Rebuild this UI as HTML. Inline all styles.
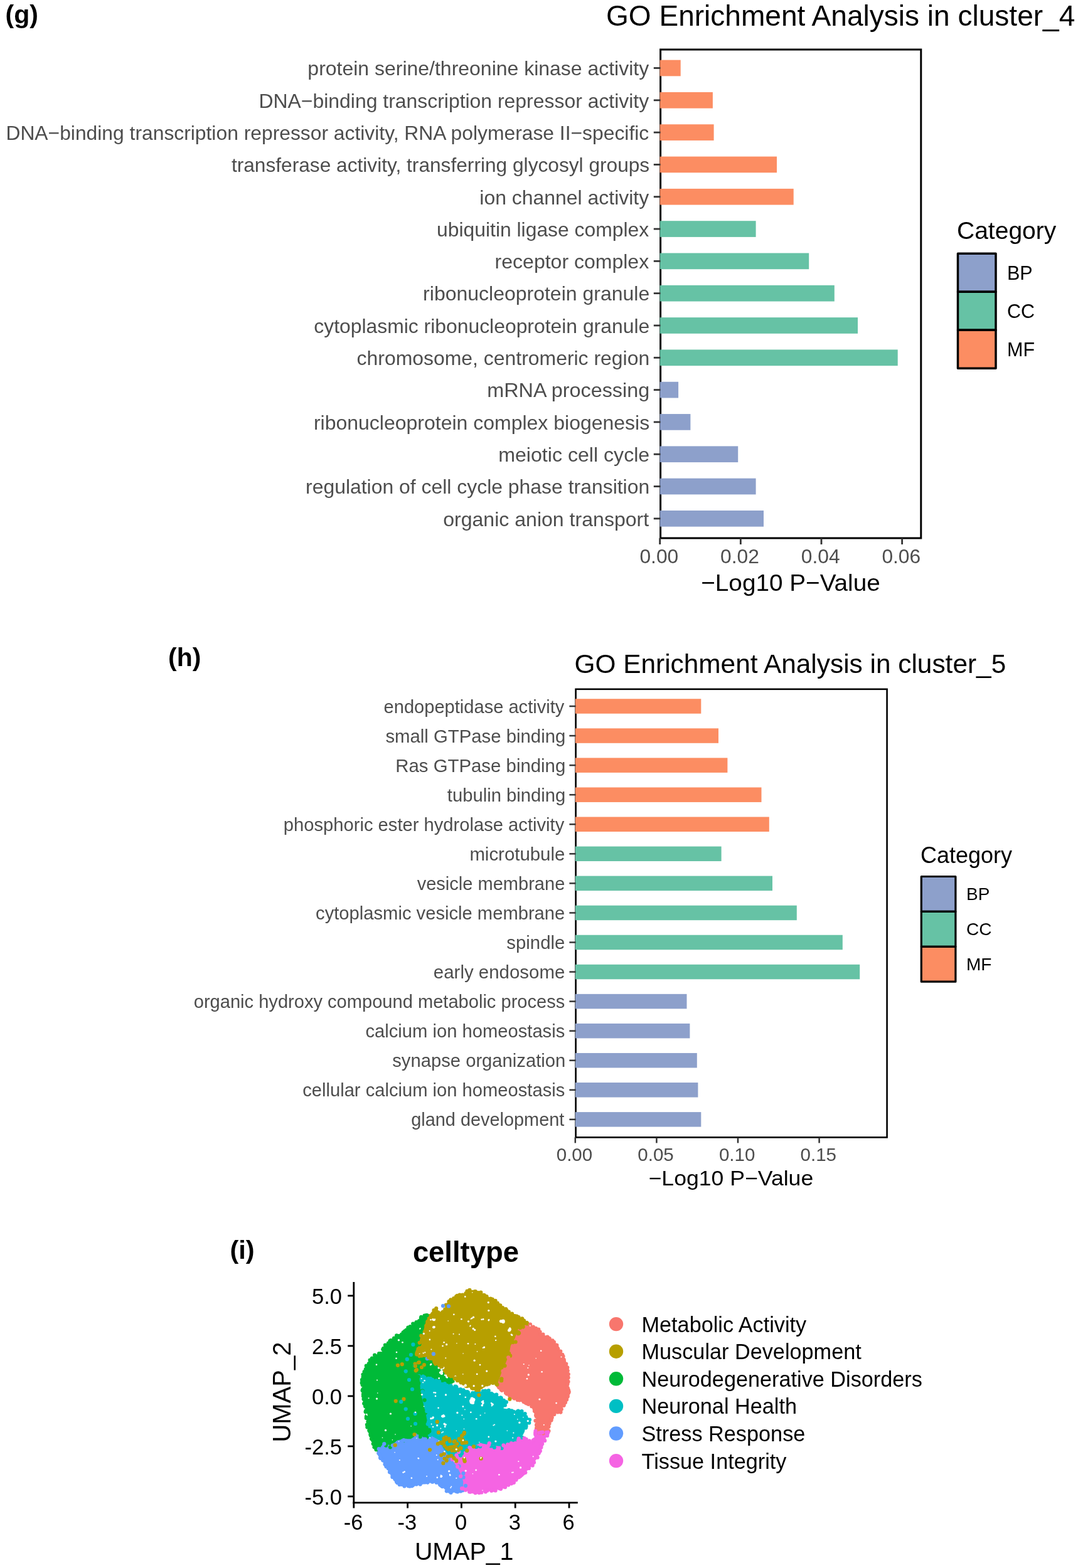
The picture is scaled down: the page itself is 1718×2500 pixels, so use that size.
<!DOCTYPE html>
<html><head><meta charset="utf-8"><title>GO Enrichment and UMAP</title>
<style>
html,body{margin:0;padding:0;background:#fff;}
body{width:1718px;height:2500px;overflow:hidden;}
svg{display:block;font-family:"Liberation Sans", Arial, sans-serif;}
</style></head><body>
<svg width="1718" height="2500" viewBox="0 0 1718 2500">
<rect width="1718" height="2500" fill="#fff"/>
<rect x="1052.6" y="79.0" width="415.20" height="779.00" fill="none" stroke="#000" stroke-width="3"/>
<rect x="1051.6" y="95.65" width="33.10" height="25.7" fill="#FC8D62"/>
<line x1="1041.8" x2="1052.6" y1="108.50" y2="108.50" stroke="#333" stroke-width="2.8"/>
<text x="1034.20" y="120.30" text-anchor="end" font-size="31.7" fill="#4D4D4D" textLength="543.81" lengthAdjust="spacingAndGlyphs">protein serine/threonine kinase activity</text>
<rect x="1051.6" y="146.96" width="84.30" height="25.7" fill="#FC8D62"/>
<line x1="1041.8" x2="1052.6" y1="159.81" y2="159.81" stroke="#333" stroke-width="2.8"/>
<text x="1034.20" y="171.61" text-anchor="end" font-size="31.7" fill="#4D4D4D" textLength="621.72" lengthAdjust="spacingAndGlyphs">DNA−binding transcription repressor activity</text>
<rect x="1051.6" y="198.27" width="86.00" height="25.7" fill="#FC8D62"/>
<line x1="1041.8" x2="1052.6" y1="211.12" y2="211.12" stroke="#333" stroke-width="2.8"/>
<text x="1034.20" y="222.92" text-anchor="end" font-size="31.7" fill="#4D4D4D" textLength="1024.79" lengthAdjust="spacingAndGlyphs">DNA−binding transcription repressor activity, RNA polymerase II−specific</text>
<rect x="1051.6" y="249.58" width="186.40" height="25.7" fill="#FC8D62"/>
<line x1="1041.8" x2="1052.6" y1="262.43" y2="262.43" stroke="#333" stroke-width="2.8"/>
<text x="1035.20" y="274.23" text-anchor="end" font-size="31.7" fill="#4D4D4D" textLength="666.29" lengthAdjust="spacingAndGlyphs">transferase activity, transferring glycosyl groups</text>
<rect x="1051.6" y="300.89" width="213.10" height="25.7" fill="#FC8D62"/>
<line x1="1041.8" x2="1052.6" y1="313.74" y2="313.74" stroke="#333" stroke-width="2.8"/>
<text x="1034.20" y="325.54" text-anchor="end" font-size="31.7" fill="#4D4D4D" textLength="269.87" lengthAdjust="spacingAndGlyphs">ion channel activity</text>
<rect x="1051.6" y="352.20" width="153.00" height="25.7" fill="#66C2A5"/>
<line x1="1041.8" x2="1052.6" y1="365.05" y2="365.05" stroke="#333" stroke-width="2.8"/>
<text x="1034.20" y="376.85" text-anchor="end" font-size="31.7" fill="#4D4D4D" textLength="338.15" lengthAdjust="spacingAndGlyphs">ubiquitin ligase complex</text>
<rect x="1051.6" y="403.51" width="237.60" height="25.7" fill="#66C2A5"/>
<line x1="1041.8" x2="1052.6" y1="416.36" y2="416.36" stroke="#333" stroke-width="2.8"/>
<text x="1034.20" y="428.16" text-anchor="end" font-size="31.7" fill="#4D4D4D" textLength="245.58" lengthAdjust="spacingAndGlyphs">receptor complex</text>
<rect x="1051.6" y="454.82" width="278.20" height="25.7" fill="#66C2A5"/>
<line x1="1041.8" x2="1052.6" y1="467.67" y2="467.67" stroke="#333" stroke-width="2.8"/>
<text x="1035.20" y="479.47" text-anchor="end" font-size="31.7" fill="#4D4D4D" textLength="361.06" lengthAdjust="spacingAndGlyphs">ribonucleoprotein granule</text>
<rect x="1051.6" y="506.13" width="315.40" height="25.7" fill="#66C2A5"/>
<line x1="1041.8" x2="1052.6" y1="518.98" y2="518.98" stroke="#333" stroke-width="2.8"/>
<text x="1035.20" y="530.78" text-anchor="end" font-size="31.7" fill="#4D4D4D" textLength="534.87" lengthAdjust="spacingAndGlyphs">cytoplasmic ribonucleoprotein granule</text>
<rect x="1051.6" y="557.44" width="379.10" height="25.7" fill="#66C2A5"/>
<line x1="1041.8" x2="1052.6" y1="570.29" y2="570.29" stroke="#333" stroke-width="2.8"/>
<text x="1035.20" y="582.09" text-anchor="end" font-size="31.7" fill="#4D4D4D" textLength="466.60" lengthAdjust="spacingAndGlyphs">chromosome, centromeric region</text>
<rect x="1051.6" y="608.75" width="29.50" height="25.7" fill="#8DA0CB"/>
<line x1="1041.8" x2="1052.6" y1="621.60" y2="621.60" stroke="#333" stroke-width="2.8"/>
<text x="1035.20" y="633.40" text-anchor="end" font-size="31.7" fill="#4D4D4D" textLength="258.97" lengthAdjust="spacingAndGlyphs">mRNA processing</text>
<rect x="1051.6" y="660.06" width="48.80" height="25.7" fill="#8DA0CB"/>
<line x1="1041.8" x2="1052.6" y1="672.91" y2="672.91" stroke="#333" stroke-width="2.8"/>
<text x="1035.20" y="684.71" text-anchor="end" font-size="31.7" fill="#4D4D4D" textLength="535.26" lengthAdjust="spacingAndGlyphs">ribonucleoprotein complex biogenesis</text>
<rect x="1051.6" y="711.37" width="124.60" height="25.7" fill="#8DA0CB"/>
<line x1="1041.8" x2="1052.6" y1="724.22" y2="724.22" stroke="#333" stroke-width="2.8"/>
<text x="1035.20" y="736.02" text-anchor="end" font-size="31.7" fill="#4D4D4D" textLength="240.97" lengthAdjust="spacingAndGlyphs">meiotic cell cycle</text>
<rect x="1051.6" y="762.68" width="153.00" height="25.7" fill="#8DA0CB"/>
<line x1="1041.8" x2="1052.6" y1="775.53" y2="775.53" stroke="#333" stroke-width="2.8"/>
<text x="1035.20" y="787.33" text-anchor="end" font-size="31.7" fill="#4D4D4D" textLength="548.20" lengthAdjust="spacingAndGlyphs">regulation of cell cycle phase transition</text>
<rect x="1051.6" y="813.99" width="165.40" height="25.7" fill="#8DA0CB"/>
<line x1="1041.8" x2="1052.6" y1="826.84" y2="826.84" stroke="#333" stroke-width="2.8"/>
<text x="1034.20" y="838.64" text-anchor="end" font-size="31.7" fill="#4D4D4D" textLength="328.05" lengthAdjust="spacingAndGlyphs">organic anion transport</text>
<line x1="1051.70" x2="1051.70" y1="858.0" y2="868.0" stroke="#333" stroke-width="2.8"/>
<text x="1050.35" y="897.9" text-anchor="middle" font-size="31" fill="#4D4D4D" textLength="61.8" lengthAdjust="spacingAndGlyphs">0.00</text>
<line x1="1180.35" x2="1180.35" y1="858.0" y2="868.0" stroke="#333" stroke-width="2.8"/>
<text x="1179.00" y="897.9" text-anchor="middle" font-size="31" fill="#4D4D4D" textLength="61.8" lengthAdjust="spacingAndGlyphs">0.02</text>
<line x1="1309.00" x2="1309.00" y1="858.0" y2="868.0" stroke="#333" stroke-width="2.8"/>
<text x="1307.65" y="897.9" text-anchor="middle" font-size="31" fill="#4D4D4D" textLength="61.8" lengthAdjust="spacingAndGlyphs">0.04</text>
<line x1="1437.65" x2="1437.65" y1="858.0" y2="868.0" stroke="#333" stroke-width="2.8"/>
<text x="1436.30" y="897.9" text-anchor="middle" font-size="31" fill="#4D4D4D" textLength="61.8" lengthAdjust="spacingAndGlyphs">0.06</text>
<text x="1260.0" y="942.1" text-anchor="middle" font-size="37.8" fill="#000" textLength="285.5" lengthAdjust="spacingAndGlyphs">−Log10 P−Value</text>
<text x="966.0" y="40.5" font-size="46.05" fill="#000">GO Enrichment Analysis in cluster_4</text>
<text x="8.5" y="36.5" font-size="41" font-weight="bold" fill="#000">(g)</text>
<text x="1525" y="381.2" font-size="39" fill="#000">Category</text>
<rect x="1526.5" y="404.20" width="60.5" height="61.00" fill="#8DA0CB" stroke="#000" stroke-width="3.5" stroke-linejoin="round"/>
<text x="1605" y="445.70" font-size="30.5" fill="#000">BP</text>
<rect x="1526.5" y="465.20" width="60.5" height="61.00" fill="#66C2A5" stroke="#000" stroke-width="3.5" stroke-linejoin="round"/>
<text x="1605" y="506.70" font-size="30.5" fill="#000">CC</text>
<rect x="1526.5" y="526.20" width="60.5" height="61.00" fill="#FC8D62" stroke="#000" stroke-width="3.5" stroke-linejoin="round"/>
<text x="1605" y="567.70" font-size="30.5" fill="#000">MF</text>
<rect x="917.6" y="1098.8" width="496.00" height="714.60" fill="none" stroke="#000" stroke-width="2.6"/>
<rect x="916.8" y="1114.25" width="200.50" height="23.5" fill="#FC8D62"/>
<line x1="907.4" x2="917.6" y1="1126.00" y2="1126.00" stroke="#333" stroke-width="2.5"/>
<text x="899.30" y="1136.60" text-anchor="end" font-size="28.9" fill="#4D4D4D" textLength="287.70" lengthAdjust="spacingAndGlyphs">endopeptidase activity</text>
<rect x="916.8" y="1161.31" width="228.20" height="23.5" fill="#FC8D62"/>
<line x1="907.4" x2="917.6" y1="1173.06" y2="1173.06" stroke="#333" stroke-width="2.5"/>
<text x="901.30" y="1183.66" text-anchor="end" font-size="28.9" fill="#4D4D4D" textLength="286.88" lengthAdjust="spacingAndGlyphs">small GTPase binding</text>
<rect x="916.8" y="1208.37" width="242.60" height="23.5" fill="#FC8D62"/>
<line x1="907.4" x2="917.6" y1="1220.12" y2="1220.12" stroke="#333" stroke-width="2.5"/>
<text x="901.30" y="1230.72" text-anchor="end" font-size="28.9" fill="#4D4D4D" textLength="271.06" lengthAdjust="spacingAndGlyphs">Ras GTPase binding</text>
<rect x="916.8" y="1255.43" width="296.70" height="23.5" fill="#FC8D62"/>
<line x1="907.4" x2="917.6" y1="1267.18" y2="1267.18" stroke="#333" stroke-width="2.5"/>
<text x="901.30" y="1277.78" text-anchor="end" font-size="28.9" fill="#4D4D4D" textLength="188.47" lengthAdjust="spacingAndGlyphs">tubulin binding</text>
<rect x="916.8" y="1302.49" width="309.00" height="23.5" fill="#FC8D62"/>
<line x1="907.4" x2="917.6" y1="1314.24" y2="1314.24" stroke="#333" stroke-width="2.5"/>
<text x="899.30" y="1324.84" text-anchor="end" font-size="28.9" fill="#4D4D4D" textLength="447.54" lengthAdjust="spacingAndGlyphs">phosphoric ester hydrolase activity</text>
<rect x="916.8" y="1349.55" width="232.80" height="23.5" fill="#66C2A5"/>
<line x1="907.4" x2="917.6" y1="1361.30" y2="1361.30" stroke="#333" stroke-width="2.5"/>
<text x="900.30" y="1371.90" text-anchor="end" font-size="28.9" fill="#4D4D4D" textLength="151.90" lengthAdjust="spacingAndGlyphs">microtubule</text>
<rect x="916.8" y="1396.61" width="314.20" height="23.5" fill="#66C2A5"/>
<line x1="907.4" x2="917.6" y1="1408.36" y2="1408.36" stroke="#333" stroke-width="2.5"/>
<text x="900.30" y="1418.96" text-anchor="end" font-size="28.9" fill="#4D4D4D" textLength="235.64" lengthAdjust="spacingAndGlyphs">vesicle membrane</text>
<rect x="916.8" y="1443.67" width="353.00" height="23.5" fill="#66C2A5"/>
<line x1="907.4" x2="917.6" y1="1455.42" y2="1455.42" stroke="#333" stroke-width="2.5"/>
<text x="900.30" y="1466.02" text-anchor="end" font-size="28.9" fill="#4D4D4D" textLength="397.20" lengthAdjust="spacingAndGlyphs">cytoplasmic vesicle membrane</text>
<rect x="916.8" y="1490.73" width="426.00" height="23.5" fill="#66C2A5"/>
<line x1="907.4" x2="917.6" y1="1502.48" y2="1502.48" stroke="#333" stroke-width="2.5"/>
<text x="900.30" y="1513.08" text-anchor="end" font-size="28.9" fill="#4D4D4D" textLength="93.00" lengthAdjust="spacingAndGlyphs">spindle</text>
<rect x="916.8" y="1537.79" width="453.40" height="23.5" fill="#66C2A5"/>
<line x1="907.4" x2="917.6" y1="1549.54" y2="1549.54" stroke="#333" stroke-width="2.5"/>
<text x="900.30" y="1560.14" text-anchor="end" font-size="28.9" fill="#4D4D4D" textLength="209.43" lengthAdjust="spacingAndGlyphs">early endosome</text>
<rect x="916.8" y="1584.85" width="177.70" height="23.5" fill="#8DA0CB"/>
<line x1="907.4" x2="917.6" y1="1596.60" y2="1596.60" stroke="#333" stroke-width="2.5"/>
<text x="900.30" y="1607.20" text-anchor="end" font-size="28.9" fill="#4D4D4D" textLength="591.57" lengthAdjust="spacingAndGlyphs">organic hydroxy compound metabolic process</text>
<rect x="916.8" y="1631.91" width="182.60" height="23.5" fill="#8DA0CB"/>
<line x1="907.4" x2="917.6" y1="1643.66" y2="1643.66" stroke="#333" stroke-width="2.5"/>
<text x="900.30" y="1654.26" text-anchor="end" font-size="28.9" fill="#4D4D4D" textLength="317.86" lengthAdjust="spacingAndGlyphs">calcium ion homeostasis</text>
<rect x="916.8" y="1678.97" width="194.00" height="23.5" fill="#8DA0CB"/>
<line x1="907.4" x2="917.6" y1="1690.72" y2="1690.72" stroke="#333" stroke-width="2.5"/>
<text x="901.30" y="1701.32" text-anchor="end" font-size="28.9" fill="#4D4D4D" textLength="276.08" lengthAdjust="spacingAndGlyphs">synapse organization</text>
<rect x="916.8" y="1726.03" width="195.60" height="23.5" fill="#8DA0CB"/>
<line x1="907.4" x2="917.6" y1="1737.78" y2="1737.78" stroke="#333" stroke-width="2.5"/>
<text x="900.30" y="1748.38" text-anchor="end" font-size="28.9" fill="#4D4D4D" textLength="418.10" lengthAdjust="spacingAndGlyphs">cellular calcium ion homeostasis</text>
<rect x="916.8" y="1773.09" width="200.50" height="23.5" fill="#8DA0CB"/>
<line x1="907.4" x2="917.6" y1="1784.84" y2="1784.84" stroke="#333" stroke-width="2.5"/>
<text x="899.30" y="1795.44" text-anchor="end" font-size="28.9" fill="#4D4D4D" textLength="244.06" lengthAdjust="spacingAndGlyphs">gland development</text>
<line x1="916.80" x2="916.80" y1="1813.4" y2="1822.4" stroke="#333" stroke-width="2.5"/>
<text x="915.45" y="1851.0" text-anchor="middle" font-size="29.5" fill="#4D4D4D">0.00</text>
<line x1="1046.40" x2="1046.40" y1="1813.4" y2="1822.4" stroke="#333" stroke-width="2.5"/>
<text x="1045.05" y="1851.0" text-anchor="middle" font-size="29.5" fill="#4D4D4D">0.05</text>
<line x1="1176.00" x2="1176.00" y1="1813.4" y2="1822.4" stroke="#333" stroke-width="2.5"/>
<text x="1174.65" y="1851.0" text-anchor="middle" font-size="29.5" fill="#4D4D4D">0.10</text>
<line x1="1305.60" x2="1305.60" y1="1813.4" y2="1822.4" stroke="#333" stroke-width="2.5"/>
<text x="1304.25" y="1851.0" text-anchor="middle" font-size="29.5" fill="#4D4D4D">0.15</text>
<text x="1164.9" y="1890.4" text-anchor="middle" font-size="33" fill="#000" textLength="262.7" lengthAdjust="spacingAndGlyphs">−Log10 P−Value</text>
<text x="915.5" y="1072.8" font-size="42.38" fill="#000">GO Enrichment Analysis in cluster_5</text>
<text x="268" y="1062.3" font-size="41" font-weight="bold" fill="#000">(h)</text>
<text x="1467" y="1376.4" font-size="36" fill="#000">Category</text>
<rect x="1468.3" y="1397.50" width="54.6" height="55.90" fill="#8DA0CB" stroke="#000" stroke-width="3.2" stroke-linejoin="round"/>
<text x="1540" y="1435.45" font-size="28" fill="#000">BP</text>
<rect x="1468.3" y="1453.40" width="54.6" height="55.90" fill="#66C2A5" stroke="#000" stroke-width="3.2" stroke-linejoin="round"/>
<text x="1540" y="1491.35" font-size="28" fill="#000">CC</text>
<rect x="1468.3" y="1509.30" width="54.6" height="55.90" fill="#FC8D62" stroke="#000" stroke-width="3.2" stroke-linejoin="round"/>
<text x="1540" y="1547.25" font-size="28" fill="#000">MF</text>
<polygon points="665.0,2160.0 680.0,2160.0 690.0,2168.0 703.0,2180.0 710.0,2185.0 720.0,2195.0 724.0,2203.0 716.0,2208.0 706.0,2206.0 690.0,2200.0 669.0,2194.0 664.0,2178.0" fill="#00BA38" stroke="#00BA38" stroke-width="1.6" stroke-linejoin="round"/>
<polygon points="682.5,2096.0 676.0,2120.0 670.0,2135.0 668.0,2146.0 663.0,2154.0 665.0,2160.0 664.0,2178.0 669.0,2194.0 670.0,2205.0 671.0,2220.0 675.0,2236.0 679.0,2252.0 682.0,2268.0 685.0,2284.0 687.0,2290.0 676.0,2292.0 666.0,2288.0 655.0,2295.0 645.0,2295.0 634.0,2297.0 623.0,2305.0 610.5,2303.0 602.0,2315.0 599.0,2310.0 594.5,2297.0 588.0,2284.0 585.0,2268.0 583.8,2252.0 581.5,2236.0 578.0,2220.0 578.5,2199.0 581.0,2184.0 586.0,2177.0 591.0,2169.0 598.0,2161.0 609.0,2157.0 612.0,2148.0 617.0,2142.0 626.0,2134.0 636.0,2129.0 647.0,2122.0 657.0,2113.0 671.0,2102.0" fill="#00BA38" stroke="#00BA38" stroke-width="1.6" stroke-linejoin="round"/>
<polygon points="682.5,2096.0 688.8,2095.0 694.8,2086.8 697.5,2089.0 701.0,2097.0 705.3,2095.0 709.1,2087.6 712.1,2078.6 716.6,2074.8 721.1,2071.8 726.4,2066.5 733.9,2064.3 741.4,2062.8 745.2,2059.0 752.7,2057.5 764.0,2060.5 771.5,2065.0 779.0,2068.8 785.0,2071.0 793.3,2078.8 803.9,2087.3 814.6,2094.7 830.5,2102.2 841.0,2112.0 827.0,2118.0 821.0,2135.0 814.6,2146.0 812.0,2160.0 806.0,2175.0 800.4,2187.6 796.0,2200.0 794.0,2206.0 790.0,2206.0 775.3,2206.4 762.8,2216.4 750.0,2212.0 737.7,2206.4 730.0,2200.0 720.0,2195.0 710.0,2185.0 703.0,2180.0 690.0,2168.0 680.0,2160.0 665.0,2160.0 663.0,2154.0 668.0,2146.0 670.0,2135.0 676.0,2120.0" fill="#B79F00" stroke="#B79F00" stroke-width="1.6" stroke-linejoin="round"/>
<polygon points="841.0,2112.0 846.5,2113.9 855.0,2118.2 862.5,2126.7 878.5,2135.2 887.0,2145.9 894.5,2156.5 899.8,2167.2 903.0,2177.8 905.1,2193.8 906.2,2220.0 904.0,2230.7 897.6,2241.3 891.3,2252.0 880.0,2254.0 878.5,2264.7 873.2,2273.3 874.0,2284.0 857.0,2284.0 855.0,2268.0 855.0,2254.0 850.0,2242.0 838.0,2237.7 813.0,2225.2 794.0,2212.7 794.0,2206.0 796.0,2200.0 800.4,2187.6 806.0,2175.0 812.0,2160.0 814.6,2146.0 821.0,2135.0 827.0,2118.0" fill="#F8766D" stroke="#F8766D" stroke-width="1.6" stroke-linejoin="round"/>
<polygon points="669.0,2194.0 690.0,2200.0 706.4,2206.4 737.7,2215.2 750.3,2222.7 762.8,2220.2 775.3,2217.7 787.8,2222.7 800.4,2230.2 806.6,2237.7 797.0,2244.0 813.0,2250.3 831.7,2250.3 838.0,2256.5 843.0,2266.0 838.0,2275.0 831.0,2284.0 831.0,2291.0 836.0,2293.0 831.0,2295.0 815.0,2301.0 799.0,2307.0 783.0,2305.0 767.0,2302.0 751.0,2307.0 745.0,2312.0 735.0,2318.0 722.0,2328.0 715.0,2322.0 706.0,2310.0 698.0,2296.0 687.0,2290.0 685.0,2284.0 682.0,2268.0 679.0,2252.0 675.0,2236.0 671.0,2220.0 670.0,2205.0" fill="#00BFC4" stroke="#00BFC4" stroke-width="1.6" stroke-linejoin="round"/>
<polygon points="602.0,2315.0 610.5,2303.0 623.0,2305.0 634.0,2297.0 645.0,2295.0 655.0,2295.0 666.0,2288.0 676.0,2292.0 687.0,2290.0 698.0,2296.0 706.0,2310.0 715.0,2322.0 722.0,2328.0 730.0,2340.0 736.0,2352.0 739.0,2362.0 739.0,2374.0 738.0,2374.0 729.8,2377.6 719.1,2379.8 710.6,2374.5 703.2,2367.0 692.5,2363.8 681.8,2361.7 672.3,2365.9 660.5,2368.1 649.9,2370.2 639.2,2367.0 628.6,2360.6 621.1,2347.8 614.7,2337.2 608.3,2326.5" fill="#619CFF" stroke="#619CFF" stroke-width="1.6" stroke-linejoin="round"/>
<polygon points="722.0,2328.0 735.0,2318.0 745.0,2312.0 751.0,2307.0 767.0,2302.0 783.0,2305.0 799.0,2307.0 815.0,2301.0 831.0,2295.0 836.0,2293.0 846.0,2300.0 852.0,2294.0 853.0,2283.0 857.0,2284.0 874.0,2284.0 867.8,2294.6 862.5,2305.2 857.2,2321.2 846.5,2337.2 835.9,2347.8 825.2,2358.5 809.2,2369.1 793.3,2374.5 772.0,2377.6 756.0,2379.8 745.3,2376.6 738.0,2374.0 739.0,2374.0 739.0,2362.0 736.0,2352.0 730.0,2340.0" fill="#F564E3" stroke="#F564E3" stroke-width="1.6" stroke-linejoin="round"/>
<g fill="#00BA38"><circle cx="680.5" cy="2097.0" r="3.1"/><circle cx="679.5" cy="2097.2" r="3.1"/><circle cx="676.6" cy="2097.6" r="3.1"/><circle cx="671.3" cy="2099.8" r="3.1"/><circle cx="670.9" cy="2101.7" r="3.1"/><circle cx="668.0" cy="2106.1" r="3.1"/><circle cx="663.5" cy="2109.2" r="3.1"/><circle cx="663.6" cy="2108.0" r="3.1"/><circle cx="658.2" cy="2110.5" r="3.1"/><circle cx="653.9" cy="2115.1" r="3.1"/><circle cx="652.5" cy="2116.8" r="3.1"/><circle cx="650.4" cy="2116.7" r="3.1"/><circle cx="647.6" cy="2120.7" r="3.1"/><circle cx="645.2" cy="2122.4" r="3.1"/><circle cx="642.7" cy="2124.3" r="3.1"/><circle cx="640.0" cy="2127.7" r="3.1"/><circle cx="636.1" cy="2130.1" r="3.1"/><circle cx="635.3" cy="2130.0" r="3.1"/><circle cx="632.1" cy="2129.4" r="3.1"/><circle cx="628.0" cy="2133.7" r="3.1"/><circle cx="622.8" cy="2137.0" r="3.1"/><circle cx="621.5" cy="2138.1" r="3.1"/><circle cx="618.9" cy="2141.5" r="3.1"/><circle cx="613.9" cy="2144.6" r="3.1"/><circle cx="614.5" cy="2148.0" r="3.1"/><circle cx="611.2" cy="2149.8" r="3.1"/><circle cx="610.3" cy="2151.5" r="3.1"/><circle cx="607.2" cy="2158.0" r="3.1"/><circle cx="604.1" cy="2158.2" r="3.1"/><circle cx="597.1" cy="2160.7" r="3.1"/><circle cx="597.9" cy="2163.5" r="3.1"/><circle cx="592.9" cy="2165.7" r="3.1"/><circle cx="593.7" cy="2168.8" r="3.1"/><circle cx="589.6" cy="2168.7" r="3.1"/><circle cx="587.9" cy="2174.2" r="3.1"/><circle cx="583.8" cy="2177.7" r="3.1"/><circle cx="582.8" cy="2183.2" r="3.1"/><circle cx="580.6" cy="2187.0" r="3.1"/><circle cx="578.5" cy="2191.6" r="3.1"/><circle cx="580.5" cy="2195.4" r="3.1"/><circle cx="578.6" cy="2195.5" r="3.1"/><circle cx="577.0" cy="2199.8" r="3.1"/><circle cx="577.3" cy="2202.7" r="3.1"/><circle cx="576.7" cy="2205.1" r="3.1"/><circle cx="577.8" cy="2208.3" r="3.1"/><circle cx="578.5" cy="2214.9" r="3.1"/><circle cx="577.6" cy="2216.9" r="3.1"/><circle cx="579.2" cy="2222.0" r="3.1"/><circle cx="579.0" cy="2223.4" r="3.1"/><circle cx="579.0" cy="2226.0" r="3.1"/><circle cx="579.6" cy="2230.7" r="3.1"/><circle cx="581.6" cy="2234.7" r="3.1"/><circle cx="580.2" cy="2237.8" r="3.1"/><circle cx="583.6" cy="2243.0" r="3.1"/><circle cx="582.1" cy="2242.2" r="3.1"/><circle cx="583.3" cy="2249.0" r="3.1"/><circle cx="582.6" cy="2250.9" r="3.1"/><circle cx="585.2" cy="2256.1" r="3.1"/><circle cx="585.0" cy="2256.9" r="3.1"/><circle cx="583.9" cy="2258.5" r="3.1"/><circle cx="583.8" cy="2260.9" r="3.1"/><circle cx="586.4" cy="2266.8" r="3.1"/><circle cx="587.1" cy="2272.5" r="3.1"/><circle cx="584.9" cy="2271.5" r="3.1"/><circle cx="585.4" cy="2275.4" r="3.1"/><circle cx="588.4" cy="2280.4" r="3.1"/><circle cx="588.8" cy="2281.6" r="3.1"/><circle cx="590.4" cy="2287.1" r="3.1"/><circle cx="590.8" cy="2288.7" r="3.1"/><circle cx="592.0" cy="2294.0" r="3.1"/><circle cx="594.1" cy="2296.6" r="3.1"/><circle cx="596.3" cy="2299.0" r="3.1"/><circle cx="594.7" cy="2302.0" r="3.1"/><circle cx="596.5" cy="2307.2" r="3.1"/><circle cx="599.5" cy="2309.5" r="3.1"/><circle cx="599.5" cy="2311.2" r="3.1"/></g>
<g fill="#B79F00"><circle cx="689.1" cy="2095.1" r="3.1"/><circle cx="690.5" cy="2093.6" r="3.1"/><circle cx="691.5" cy="2089.2" r="3.1"/><circle cx="692.6" cy="2089.0" r="3.1"/><circle cx="695.2" cy="2086.2" r="3.1"/><circle cx="698.6" cy="2092.5" r="3.1"/><circle cx="701.6" cy="2095.1" r="3.1"/><circle cx="705.0" cy="2095.3" r="3.1"/><circle cx="704.8" cy="2092.9" r="3.1"/><circle cx="706.0" cy="2091.6" r="3.1"/><circle cx="709.3" cy="2087.5" r="3.1"/><circle cx="710.9" cy="2080.7" r="3.1"/><circle cx="715.5" cy="2075.2" r="3.1"/><circle cx="718.3" cy="2072.4" r="3.1"/><circle cx="723.2" cy="2070.0" r="3.1"/><circle cx="727.1" cy="2067.0" r="3.1"/><circle cx="728.7" cy="2065.9" r="3.1"/><circle cx="732.6" cy="2064.7" r="3.1"/><circle cx="737.1" cy="2064.6" r="3.1"/><circle cx="742.4" cy="2062.1" r="3.1"/><circle cx="744.9" cy="2061.8" r="3.1"/><circle cx="744.5" cy="2058.7" r="3.1"/><circle cx="748.4" cy="2056.8" r="3.1"/><circle cx="756.1" cy="2059.4" r="3.1"/><circle cx="757.7" cy="2059.2" r="3.1"/><circle cx="762.0" cy="2061.1" r="3.1"/><circle cx="766.3" cy="2060.7" r="3.1"/><circle cx="771.1" cy="2064.9" r="3.1"/><circle cx="771.9" cy="2065.4" r="3.1"/><circle cx="775.5" cy="2067.0" r="3.1"/><circle cx="781.8" cy="2070.6" r="3.1"/><circle cx="784.7" cy="2071.6" r="3.1"/><circle cx="789.5" cy="2073.8" r="3.1"/><circle cx="794.2" cy="2080.3" r="3.1"/><circle cx="792.8" cy="2077.5" r="3.1"/><circle cx="797.3" cy="2081.4" r="3.1"/><circle cx="801.0" cy="2085.0" r="3.1"/><circle cx="800.8" cy="2087.1" r="3.1"/><circle cx="806.1" cy="2087.0" r="3.1"/><circle cx="807.3" cy="2089.0" r="3.1"/><circle cx="810.8" cy="2091.6" r="3.1"/><circle cx="812.7" cy="2095.5" r="3.1"/><circle cx="816.0" cy="2094.7" r="3.1"/><circle cx="819.0" cy="2098.1" r="3.1"/><circle cx="820.6" cy="2098.2" r="3.1"/><circle cx="823.6" cy="2098.5" r="3.1"/><circle cx="826.5" cy="2100.2" r="3.1"/><circle cx="832.1" cy="2102.3" r="3.1"/><circle cx="833.4" cy="2105.4" r="3.1"/><circle cx="835.0" cy="2105.6" r="3.1"/><circle cx="840.5" cy="2110.4" r="3.1"/></g>
<g fill="#F8766D"><circle cx="845.0" cy="2111.6" r="3.1"/><circle cx="849.8" cy="2115.6" r="3.1"/><circle cx="854.0" cy="2117.9" r="3.1"/><circle cx="858.3" cy="2119.6" r="3.1"/><circle cx="860.2" cy="2123.8" r="3.1"/><circle cx="860.5" cy="2123.6" r="3.1"/><circle cx="861.5" cy="2127.7" r="3.1"/><circle cx="865.4" cy="2127.5" r="3.1"/><circle cx="872.8" cy="2132.1" r="3.1"/><circle cx="872.2" cy="2131.6" r="3.1"/><circle cx="875.7" cy="2134.1" r="3.1"/><circle cx="880.5" cy="2137.4" r="3.1"/><circle cx="881.0" cy="2140.8" r="3.1"/><circle cx="882.9" cy="2139.8" r="3.1"/><circle cx="885.6" cy="2144.3" r="3.1"/><circle cx="887.4" cy="2144.8" r="3.1"/><circle cx="888.1" cy="2148.9" r="3.1"/><circle cx="889.3" cy="2150.7" r="3.1"/><circle cx="893.3" cy="2154.6" r="3.1"/><circle cx="896.3" cy="2159.9" r="3.1"/><circle cx="897.5" cy="2162.6" r="3.1"/><circle cx="898.7" cy="2167.9" r="3.1"/><circle cx="899.0" cy="2170.5" r="3.1"/><circle cx="902.2" cy="2174.6" r="3.1"/><circle cx="901.6" cy="2177.2" r="3.1"/><circle cx="904.3" cy="2180.4" r="3.1"/><circle cx="904.0" cy="2184.9" r="3.1"/><circle cx="904.7" cy="2185.5" r="3.1"/><circle cx="903.1" cy="2187.1" r="3.1"/><circle cx="905.8" cy="2191.1" r="3.1"/><circle cx="905.6" cy="2196.4" r="3.1"/><circle cx="903.7" cy="2199.6" r="3.1"/><circle cx="905.5" cy="2202.9" r="3.1"/><circle cx="904.2" cy="2206.5" r="3.1"/><circle cx="904.3" cy="2207.0" r="3.1"/><circle cx="904.9" cy="2213.3" r="3.1"/><circle cx="906.0" cy="2216.3" r="3.1"/><circle cx="906.7" cy="2219.1" r="3.1"/><circle cx="906.2" cy="2220.8" r="3.1"/><circle cx="904.6" cy="2224.9" r="3.1"/><circle cx="904.7" cy="2226.7" r="3.1"/><circle cx="903.1" cy="2231.5" r="3.1"/><circle cx="901.0" cy="2236.0" r="3.1"/><circle cx="898.5" cy="2239.5" r="3.1"/><circle cx="898.6" cy="2240.8" r="3.1"/><circle cx="894.8" cy="2246.8" r="3.1"/><circle cx="893.5" cy="2251.6" r="3.1"/><circle cx="888.9" cy="2251.4" r="3.1"/><circle cx="883.0" cy="2253.6" r="3.1"/><circle cx="883.3" cy="2254.9" r="3.1"/><circle cx="881.0" cy="2254.5" r="3.1"/><circle cx="879.7" cy="2259.9" r="3.1"/><circle cx="878.5" cy="2262.8" r="3.1"/><circle cx="878.5" cy="2264.6" r="3.1"/><circle cx="875.1" cy="2267.9" r="3.1"/><circle cx="875.5" cy="2269.7" r="3.1"/><circle cx="874.5" cy="2274.8" r="3.1"/><circle cx="874.4" cy="2281.5" r="3.1"/><circle cx="873.4" cy="2281.1" r="3.1"/></g>
<g fill="#F8766D"><circle cx="794.3" cy="2208.9" r="3.1"/><circle cx="793.3" cy="2209.3" r="3.1"/><circle cx="795.3" cy="2212.2" r="3.1"/><circle cx="798.5" cy="2215.4" r="3.1"/><circle cx="799.8" cy="2216.8" r="3.1"/><circle cx="806.0" cy="2220.8" r="3.1"/><circle cx="807.9" cy="2222.4" r="3.1"/><circle cx="809.8" cy="2221.2" r="3.1"/><circle cx="812.1" cy="2225.5" r="3.1"/><circle cx="814.3" cy="2224.8" r="3.1"/><circle cx="817.8" cy="2228.1" r="3.1"/><circle cx="819.7" cy="2229.6" r="3.1"/><circle cx="824.7" cy="2231.9" r="3.1"/><circle cx="826.6" cy="2231.6" r="3.1"/><circle cx="828.1" cy="2232.3" r="3.1"/><circle cx="834.6" cy="2235.1" r="3.1"/><circle cx="839.3" cy="2237.4" r="3.1"/><circle cx="837.6" cy="2236.6" r="3.1"/><circle cx="842.1" cy="2238.8" r="3.1"/><circle cx="847.3" cy="2242.2" r="3.1"/><circle cx="850.7" cy="2244.0" r="3.1"/><circle cx="851.5" cy="2246.1" r="3.1"/><circle cx="851.9" cy="2249.7" r="3.1"/><circle cx="853.9" cy="2251.8" r="3.1"/><circle cx="854.1" cy="2256.3" r="3.1"/><circle cx="854.7" cy="2258.2" r="3.1"/><circle cx="856.1" cy="2265.5" r="3.1"/><circle cx="853.5" cy="2265.2" r="3.1"/><circle cx="855.3" cy="2271.1" r="3.1"/><circle cx="855.1" cy="2272.6" r="3.1"/><circle cx="857.3" cy="2278.6" r="3.1"/><circle cx="855.0" cy="2277.3" r="3.1"/><circle cx="857.4" cy="2283.9" r="3.1"/><circle cx="859.9" cy="2284.8" r="3.1"/><circle cx="862.1" cy="2282.5" r="3.1"/><circle cx="865.6" cy="2285.3" r="3.1"/><circle cx="868.8" cy="2282.8" r="3.1"/><circle cx="871.9" cy="2284.6" r="3.1"/></g>
<g fill="#00BFC4"><circle cx="668.0" cy="2194.2" r="3.1"/><circle cx="674.2" cy="2194.7" r="3.1"/><circle cx="676.5" cy="2196.0" r="3.1"/><circle cx="682.6" cy="2197.9" r="3.1"/><circle cx="686.0" cy="2198.0" r="3.1"/><circle cx="688.8" cy="2199.9" r="3.1"/><circle cx="689.5" cy="2200.4" r="3.1"/><circle cx="695.2" cy="2201.4" r="3.1"/><circle cx="700.1" cy="2202.5" r="3.1"/><circle cx="699.4" cy="2203.6" r="3.1"/><circle cx="704.4" cy="2206.9" r="3.1"/><circle cx="708.7" cy="2206.1" r="3.1"/><circle cx="712.0" cy="2209.2" r="3.1"/><circle cx="712.5" cy="2209.2" r="3.1"/><circle cx="718.2" cy="2209.3" r="3.1"/><circle cx="718.6" cy="2209.8" r="3.1"/><circle cx="725.6" cy="2210.3" r="3.1"/><circle cx="725.5" cy="2213.5" r="3.1"/><circle cx="727.3" cy="2211.3" r="3.1"/><circle cx="733.9" cy="2215.0" r="3.1"/><circle cx="738.5" cy="2216.3" r="3.1"/><circle cx="737.7" cy="2217.2" r="3.1"/><circle cx="741.7" cy="2219.0" r="3.1"/><circle cx="744.8" cy="2219.1" r="3.1"/><circle cx="746.1" cy="2220.4" r="3.1"/><circle cx="753.2" cy="2221.2" r="3.1"/><circle cx="757.5" cy="2220.6" r="3.1"/><circle cx="763.1" cy="2220.1" r="3.1"/><circle cx="762.9" cy="2219.8" r="3.1"/><circle cx="769.8" cy="2218.2" r="3.1"/><circle cx="773.4" cy="2217.5" r="3.1"/><circle cx="778.7" cy="2217.2" r="3.1"/><circle cx="777.1" cy="2220.3" r="3.1"/><circle cx="783.1" cy="2221.8" r="3.1"/><circle cx="785.0" cy="2223.3" r="3.1"/><circle cx="789.0" cy="2224.6" r="3.1"/><circle cx="791.2" cy="2223.6" r="3.1"/><circle cx="797.8" cy="2228.3" r="3.1"/><circle cx="798.7" cy="2229.2" r="3.1"/><circle cx="802.8" cy="2232.8" r="3.1"/><circle cx="802.5" cy="2233.4" r="3.1"/><circle cx="806.9" cy="2235.4" r="3.1"/><circle cx="804.8" cy="2240.4" r="3.1"/><circle cx="801.3" cy="2240.9" r="3.1"/><circle cx="798.7" cy="2243.5" r="3.1"/><circle cx="796.3" cy="2244.9" r="3.1"/><circle cx="799.6" cy="2244.1" r="3.1"/><circle cx="804.6" cy="2248.8" r="3.1"/><circle cx="811.0" cy="2248.1" r="3.1"/><circle cx="808.8" cy="2249.1" r="3.1"/><circle cx="815.5" cy="2249.4" r="3.1"/><circle cx="818.7" cy="2250.9" r="3.1"/><circle cx="824.4" cy="2250.8" r="3.1"/><circle cx="825.8" cy="2249.6" r="3.1"/><circle cx="829.7" cy="2251.1" r="3.1"/><circle cx="831.5" cy="2250.1" r="3.1"/><circle cx="836.6" cy="2254.1" r="3.1"/><circle cx="838.2" cy="2259.1" r="3.1"/><circle cx="839.7" cy="2262.3" r="3.1"/><circle cx="844.0" cy="2263.6" r="3.1"/><circle cx="843.2" cy="2268.5" r="3.1"/><circle cx="838.3" cy="2271.1" r="3.1"/><circle cx="838.5" cy="2273.9" r="3.1"/><circle cx="838.0" cy="2276.3" r="3.1"/><circle cx="833.5" cy="2279.8" r="3.1"/><circle cx="832.9" cy="2282.1" r="3.1"/><circle cx="831.4" cy="2285.2" r="3.1"/><circle cx="829.9" cy="2287.8" r="3.1"/><circle cx="832.6" cy="2292.0" r="3.1"/></g>
<g fill="#B79F00"><circle cx="664.2" cy="2159.4" r="3.1"/><circle cx="670.3" cy="2159.4" r="3.1"/><circle cx="674.2" cy="2160.2" r="3.1"/><circle cx="675.2" cy="2159.7" r="3.1"/><circle cx="681.8" cy="2159.8" r="3.1"/><circle cx="683.5" cy="2162.0" r="3.1"/><circle cx="685.1" cy="2166.0" r="3.1"/><circle cx="688.5" cy="2166.2" r="3.1"/><circle cx="692.2" cy="2170.6" r="3.1"/><circle cx="692.6" cy="2172.0" r="3.1"/><circle cx="694.1" cy="2174.6" r="3.1"/><circle cx="699.9" cy="2175.9" r="3.1"/><circle cx="702.6" cy="2178.6" r="3.1"/><circle cx="703.2" cy="2180.5" r="3.1"/><circle cx="708.4" cy="2185.2" r="3.1"/><circle cx="710.9" cy="2184.8" r="3.1"/><circle cx="713.3" cy="2189.6" r="3.1"/><circle cx="715.2" cy="2191.2" r="3.1"/><circle cx="718.9" cy="2193.7" r="3.1"/><circle cx="724.7" cy="2196.5" r="3.1"/><circle cx="724.9" cy="2196.4" r="3.1"/><circle cx="730.1" cy="2200.9" r="3.1"/><circle cx="731.3" cy="2199.5" r="3.1"/><circle cx="734.7" cy="2204.0" r="3.1"/><circle cx="734.7" cy="2204.3" r="3.1"/><circle cx="738.9" cy="2205.9" r="3.1"/><circle cx="742.3" cy="2209.4" r="3.1"/><circle cx="744.2" cy="2210.1" r="3.1"/><circle cx="748.1" cy="2209.4" r="3.1"/><circle cx="752.1" cy="2213.1" r="3.1"/><circle cx="753.9" cy="2213.7" r="3.1"/><circle cx="758.3" cy="2214.5" r="3.1"/><circle cx="759.5" cy="2216.2" r="3.1"/><circle cx="763.2" cy="2216.3" r="3.1"/><circle cx="767.1" cy="2211.8" r="3.1"/><circle cx="767.7" cy="2210.3" r="3.1"/><circle cx="770.1" cy="2209.4" r="3.1"/><circle cx="772.6" cy="2207.8" r="3.1"/><circle cx="776.3" cy="2207.3" r="3.1"/><circle cx="779.4" cy="2206.3" r="3.1"/><circle cx="785.5" cy="2205.0" r="3.1"/><circle cx="791.1" cy="2206.8" r="3.1"/><circle cx="792.3" cy="2207.5" r="3.1"/></g>
<g fill="#619CFF"><circle cx="737.4" cy="2376.2" r="3.1"/><circle cx="734.1" cy="2377.5" r="3.1"/><circle cx="729.1" cy="2378.5" r="3.1"/><circle cx="726.9" cy="2377.7" r="3.1"/><circle cx="718.6" cy="2379.7" r="3.1"/><circle cx="715.6" cy="2377.4" r="3.1"/><circle cx="714.3" cy="2375.7" r="3.1"/><circle cx="711.8" cy="2377.3" r="3.1"/><circle cx="710.2" cy="2371.7" r="3.1"/><circle cx="705.0" cy="2370.1" r="3.1"/><circle cx="703.6" cy="2369.1" r="3.1"/><circle cx="701.5" cy="2367.6" r="3.1"/><circle cx="700.8" cy="2366.2" r="3.1"/><circle cx="695.6" cy="2363.7" r="3.1"/><circle cx="689.2" cy="2362.7" r="3.1"/><circle cx="686.0" cy="2361.5" r="3.1"/><circle cx="681.3" cy="2362.9" r="3.1"/><circle cx="681.4" cy="2363.6" r="3.1"/><circle cx="677.3" cy="2363.3" r="3.1"/><circle cx="674.0" cy="2363.4" r="3.1"/><circle cx="669.7" cy="2366.4" r="3.1"/><circle cx="663.7" cy="2366.4" r="3.1"/><circle cx="660.3" cy="2366.3" r="3.1"/><circle cx="658.0" cy="2367.9" r="3.1"/><circle cx="656.4" cy="2369.2" r="3.1"/><circle cx="653.1" cy="2369.6" r="3.1"/><circle cx="650.8" cy="2369.2" r="3.1"/><circle cx="644.5" cy="2369.4" r="3.1"/><circle cx="640.6" cy="2366.8" r="3.1"/><circle cx="636.7" cy="2366.9" r="3.1"/><circle cx="633.2" cy="2364.1" r="3.1"/><circle cx="632.0" cy="2362.5" r="3.1"/><circle cx="629.4" cy="2358.3" r="3.1"/><circle cx="625.4" cy="2354.9" r="3.1"/><circle cx="625.6" cy="2352.5" r="3.1"/><circle cx="623.4" cy="2348.1" r="3.1"/><circle cx="621.0" cy="2347.1" r="3.1"/><circle cx="618.6" cy="2341.0" r="3.1"/><circle cx="615.5" cy="2338.2" r="3.1"/><circle cx="613.7" cy="2334.7" r="3.1"/><circle cx="613.7" cy="2334.4" r="3.1"/><circle cx="610.2" cy="2328.3" r="3.1"/><circle cx="606.7" cy="2325.0" r="3.1"/><circle cx="606.1" cy="2324.3" r="3.1"/><circle cx="605.2" cy="2319.4" r="3.1"/><circle cx="603.3" cy="2316.9" r="3.1"/></g>
<g fill="#F564E3"><circle cx="872.4" cy="2286.0" r="3.1"/><circle cx="872.1" cy="2288.9" r="3.1"/><circle cx="866.5" cy="2293.4" r="3.1"/><circle cx="868.2" cy="2296.9" r="3.1"/><circle cx="864.2" cy="2302.0" r="3.1"/><circle cx="862.9" cy="2304.1" r="3.1"/><circle cx="862.4" cy="2307.7" r="3.1"/><circle cx="860.3" cy="2312.6" r="3.1"/><circle cx="860.8" cy="2313.6" r="3.1"/><circle cx="858.8" cy="2316.5" r="3.1"/><circle cx="858.4" cy="2317.3" r="3.1"/><circle cx="854.4" cy="2322.1" r="3.1"/><circle cx="856.6" cy="2323.7" r="3.1"/><circle cx="851.9" cy="2325.4" r="3.1"/><circle cx="851.0" cy="2331.7" r="3.1"/><circle cx="847.4" cy="2334.1" r="3.1"/><circle cx="848.7" cy="2336.5" r="3.1"/><circle cx="842.7" cy="2340.7" r="3.1"/><circle cx="842.8" cy="2341.0" r="3.1"/><circle cx="839.4" cy="2341.6" r="3.1"/><circle cx="837.3" cy="2347.8" r="3.1"/><circle cx="834.1" cy="2349.3" r="3.1"/><circle cx="831.7" cy="2351.6" r="3.1"/><circle cx="829.4" cy="2353.5" r="3.1"/><circle cx="827.0" cy="2355.2" r="3.1"/><circle cx="822.5" cy="2359.4" r="3.1"/><circle cx="818.9" cy="2363.8" r="3.1"/><circle cx="815.3" cy="2363.8" r="3.1"/><circle cx="815.1" cy="2365.3" r="3.1"/><circle cx="810.3" cy="2367.6" r="3.1"/><circle cx="805.1" cy="2371.1" r="3.1"/><circle cx="803.9" cy="2369.4" r="3.1"/><circle cx="801.9" cy="2370.5" r="3.1"/><circle cx="798.1" cy="2373.8" r="3.1"/><circle cx="795.9" cy="2373.1" r="3.1"/><circle cx="789.6" cy="2376.4" r="3.1"/><circle cx="787.8" cy="2375.8" r="3.1"/><circle cx="783.2" cy="2376.2" r="3.1"/><circle cx="783.3" cy="2376.7" r="3.1"/><circle cx="776.7" cy="2376.5" r="3.1"/><circle cx="773.8" cy="2378.5" r="3.1"/><circle cx="773.0" cy="2376.1" r="3.1"/><circle cx="767.4" cy="2379.4" r="3.1"/><circle cx="763.6" cy="2379.9" r="3.1"/><circle cx="761.5" cy="2379.1" r="3.1"/><circle cx="757.6" cy="2380.2" r="3.1"/><circle cx="754.2" cy="2378.3" r="3.1"/><circle cx="749.9" cy="2378.6" r="3.1"/><circle cx="748.1" cy="2378.4" r="3.1"/><circle cx="742.0" cy="2375.7" r="3.1"/><circle cx="737.6" cy="2373.2" r="3.1"/></g>
<g fill="#F564E3"><circle cx="837.7" cy="2294.8" r="3.1"/><circle cx="838.7" cy="2294.9" r="3.1"/><circle cx="843.8" cy="2297.3" r="3.1"/><circle cx="846.0" cy="2300.5" r="3.1"/><circle cx="849.9" cy="2296.3" r="3.1"/><circle cx="851.7" cy="2295.2" r="3.1"/><circle cx="853.3" cy="2287.2" r="3.1"/><circle cx="853.2" cy="2284.7" r="3.1"/><circle cx="853.5" cy="2281.7" r="3.1"/><circle cx="859.3" cy="2284.6" r="3.1"/><circle cx="862.5" cy="2283.9" r="3.1"/><circle cx="864.6" cy="2283.7" r="3.1"/><circle cx="871.0" cy="2283.8" r="3.1"/><circle cx="873.3" cy="2283.7" r="3.1"/></g>
<g fill="#00BA38"><circle cx="680.4" cy="2104.1" r="3.1"/><circle cx="674.2" cy="2124.6" r="3.1"/><circle cx="668.4" cy="2143.3" r="3.1"/></g>
<g fill="#B79F00"><circle cx="683.7" cy="2103.4" r="3.1"/><circle cx="679.2" cy="2113.8" r="3.1"/><circle cx="681.3" cy="2107.0" r="3.1"/><circle cx="676.6" cy="2123.9" r="3.1"/><circle cx="671.3" cy="2129.7" r="3.1"/><circle cx="668.6" cy="2140.8" r="3.1"/><circle cx="666.6" cy="2150.7" r="3.1"/><circle cx="664.4" cy="2157.2" r="3.1"/></g>
<g fill="#B79F00"><circle cx="829.0" cy="2116.9" r="3.1"/><circle cx="833.7" cy="2115.6" r="3.1"/><circle cx="839.5" cy="2108.9" r="3.1"/><circle cx="825.9" cy="2124.1" r="3.1"/><circle cx="827.1" cy="2125.6" r="3.1"/><circle cx="825.9" cy="2126.2" r="3.1"/><circle cx="821.6" cy="2139.5" r="3.1"/><circle cx="817.4" cy="2140.1" r="3.1"/><circle cx="813.1" cy="2161.7" r="3.1"/><circle cx="811.0" cy="2157.8" r="3.1"/><circle cx="808.7" cy="2163.5" r="3.1"/><circle cx="812.4" cy="2161.3" r="3.1"/><circle cx="804.5" cy="2177.6" r="3.1"/><circle cx="798.9" cy="2201.0" r="3.1"/><circle cx="799.3" cy="2198.3" r="3.1"/><circle cx="799.1" cy="2201.2" r="3.1"/></g>
<g fill="#F8766D"><circle cx="810.2" cy="2164.3" r="3.1"/><circle cx="801.5" cy="2186.0" r="3.1"/></g>
<g fill="#00BA38"><circle cx="666.7" cy="2194.9" r="3.1"/><circle cx="667.3" cy="2205.4" r="3.1"/><circle cx="673.5" cy="2217.6" r="3.1"/><circle cx="672.2" cy="2217.8" r="3.1"/><circle cx="676.6" cy="2232.3" r="3.1"/><circle cx="669.5" cy="2224.2" r="3.1"/><circle cx="668.7" cy="2220.9" r="3.1"/><circle cx="678.8" cy="2250.6" r="3.1"/><circle cx="677.8" cy="2252.7" r="3.1"/><circle cx="684.4" cy="2282.0" r="3.1"/><circle cx="683.9" cy="2279.8" r="3.1"/></g>
<g fill="#00BFC4"><circle cx="673.5" cy="2218.7" r="3.1"/><circle cx="679.5" cy="2240.5" r="3.1"/><circle cx="680.2" cy="2249.9" r="3.1"/><circle cx="683.8" cy="2260.6" r="3.1"/><circle cx="681.8" cy="2270.5" r="3.1"/><circle cx="683.0" cy="2267.4" r="3.1"/><circle cx="684.7" cy="2289.6" r="3.1"/></g>
<g fill="#00BA38"><circle cx="615.1" cy="2304.6" r="3.1"/><circle cx="621.9" cy="2307.3" r="3.1"/><circle cx="627.6" cy="2297.2" r="3.1"/><circle cx="642.8" cy="2296.9" r="3.1"/><circle cx="669.7" cy="2290.7" r="3.1"/><circle cx="675.8" cy="2288.5" r="3.1"/><circle cx="680.1" cy="2291.8" r="3.1"/></g>
<g fill="#619CFF"><circle cx="603.8" cy="2310.2" r="3.1"/><circle cx="612.3" cy="2302.1" r="3.1"/><circle cx="625.9" cy="2304.6" r="3.1"/><circle cx="643.5" cy="2296.2" r="3.1"/><circle cx="641.6" cy="2297.0" r="3.1"/><circle cx="646.8" cy="2296.8" r="3.1"/><circle cx="664.1" cy="2290.9" r="3.1"/><circle cx="662.0" cy="2288.1" r="3.1"/><circle cx="677.8" cy="2294.7" r="3.1"/></g>
<g fill="#619CFF"><circle cx="731.4" cy="2337.5" r="3.1"/><circle cx="738.4" cy="2349.0" r="3.1"/><circle cx="738.5" cy="2355.4" r="3.1"/><circle cx="742.0" cy="2368.8" r="3.1"/></g>
<g fill="#F564E3"><circle cx="729.3" cy="2338.6" r="3.1"/><circle cx="720.8" cy="2326.8" r="3.1"/><circle cx="734.2" cy="2353.8" r="3.1"/><circle cx="736.1" cy="2373.2" r="3.1"/></g>
<g fill="#00BFC4"><circle cx="734.0" cy="2320.6" r="3.1"/><circle cx="736.1" cy="2317.2" r="3.1"/><circle cx="743.9" cy="2313.0" r="3.1"/><circle cx="759.0" cy="2307.0" r="3.1"/><circle cx="765.0" cy="2306.2" r="3.1"/><circle cx="782.5" cy="2305.4" r="3.1"/><circle cx="787.8" cy="2307.7" r="3.1"/><circle cx="799.5" cy="2309.0" r="3.1"/><circle cx="823.8" cy="2295.2" r="3.1"/></g>
<g fill="#F564E3"><circle cx="731.1" cy="2315.0" r="3.1"/><circle cx="727.5" cy="2320.2" r="3.1"/><circle cx="748.3" cy="2308.0" r="3.1"/><circle cx="765.6" cy="2303.5" r="3.1"/><circle cx="779.0" cy="2304.0" r="3.1"/><circle cx="779.8" cy="2301.2" r="3.1"/><circle cx="795.3" cy="2309.2" r="3.1"/><circle cx="814.8" cy="2301.1" r="3.1"/><circle cx="802.4" cy="2304.4" r="3.1"/><circle cx="809.1" cy="2303.2" r="3.1"/><circle cx="826.7" cy="2293.6" r="3.1"/><circle cx="826.0" cy="2296.7" r="3.1"/><circle cx="835.6" cy="2293.0" r="3.1"/></g>
<g fill="#B79F00"><circle cx="696.8" cy="2266.9" r="3.1"/><circle cx="698.9" cy="2283.9" r="3.1"/><circle cx="697.8" cy="2302.0" r="3.1"/><circle cx="704.2" cy="2301.0" r="3.1"/><circle cx="708.5" cy="2305.2" r="3.1"/><circle cx="711.7" cy="2308.4" r="3.1"/><circle cx="717.0" cy="2297.8" r="3.1"/><circle cx="723.4" cy="2298.8" r="3.1"/><circle cx="719.1" cy="2307.3" r="3.1"/><circle cx="724.5" cy="2312.7" r="3.1"/><circle cx="729.8" cy="2310.5" r="3.1"/><circle cx="734.0" cy="2308.4" r="3.1"/><circle cx="733.0" cy="2294.6" r="3.1"/><circle cx="736.2" cy="2289.2" r="3.1"/><circle cx="739.4" cy="2286.0" r="3.1"/><circle cx="703.2" cy="2320.1" r="3.1"/><circle cx="708.5" cy="2325.5" r="3.1"/><circle cx="713.8" cy="2322.3" r="3.1"/><circle cx="719.1" cy="2321.2" r="3.1"/><circle cx="706.4" cy="2332.9" r="3.1"/><circle cx="711.7" cy="2328.7" r="3.1"/><circle cx="685.0" cy="2311.6" r="3.1"/><circle cx="743.2" cy="2299.9" r="3.1"/><circle cx="754.9" cy="2306.3" r="3.1"/><circle cx="744.3" cy="2312.7" r="3.1"/><circle cx="766.6" cy="2325.5" r="3.1"/><circle cx="740.0" cy="2284.0" r="3.1"/><circle cx="763.4" cy="2224.3" r="3.1"/><circle cx="812.4" cy="2230.7" r="3.1"/><circle cx="633.9" cy="2176.8" r="3.1"/><circle cx="640.8" cy="2175.2" r="3.1"/><circle cx="661.6" cy="2174.6" r="3.1"/><circle cx="666.9" cy="2172.5" r="3.1"/><circle cx="662.7" cy="2185.3" r="3.1"/><circle cx="643.5" cy="2230.7" r="3.1"/><circle cx="630.7" cy="2233.8" r="3.1"/><circle cx="660.5" cy="2287.1" r="3.1"/><circle cx="629.7" cy="2304.2" r="3.1"/><circle cx="724.8" cy="2297.6" r="3.1"/><circle cx="707.6" cy="2318.0" r="3.1"/><circle cx="723.7" cy="2306.1" r="3.1"/><circle cx="715.7" cy="2294.2" r="3.1"/><circle cx="733.1" cy="2296.2" r="3.1"/><circle cx="714.5" cy="2310.8" r="3.1"/><circle cx="720.4" cy="2312.7" r="3.1"/><circle cx="710.7" cy="2291.5" r="3.1"/><circle cx="707.6" cy="2293.3" r="3.1"/><circle cx="723.4" cy="2324.8" r="3.1"/><circle cx="739.8" cy="2326.4" r="3.1"/><circle cx="725.1" cy="2305.9" r="3.1"/><circle cx="740.3" cy="2300.3" r="3.1"/><circle cx="726.9" cy="2328.3" r="3.1"/><circle cx="716.5" cy="2307.9" r="3.1"/><circle cx="740.6" cy="2329.7" r="3.1"/><circle cx="701.6" cy="2300.2" r="3.1"/><circle cx="727.2" cy="2329.4" r="3.1"/><circle cx="728.4" cy="2302.0" r="3.1"/><circle cx="731.8" cy="2294.2" r="3.1"/><circle cx="710.8" cy="2295.0" r="3.1"/><circle cx="707.1" cy="2299.5" r="3.1"/><circle cx="737.3" cy="2295.6" r="3.1"/><circle cx="726.4" cy="2308.1" r="3.1"/><circle cx="734.6" cy="2309.1" r="3.1"/><circle cx="706.0" cy="2298.9" r="3.1"/><circle cx="730.0" cy="2312.1" r="3.1"/><circle cx="736.6" cy="2300.7" r="3.1"/></g>
<g fill="#00BFC4"><circle cx="658.4" cy="2143.7" r="3.1"/><circle cx="648.8" cy="2167.2" r="3.1"/><circle cx="646.7" cy="2186.3" r="3.1"/><circle cx="661.6" cy="2177.8" r="3.1"/><circle cx="639.2" cy="2234.9" r="3.1"/><circle cx="661.6" cy="2254.1" r="3.1"/><circle cx="646.7" cy="2246.6" r="3.1"/><circle cx="655.0" cy="2160.0" r="3.1"/><circle cx="652.0" cy="2200.0" r="3.1"/><circle cx="657.0" cy="2215.0" r="3.1"/><circle cx="650.0" cy="2262.0" r="3.1"/><circle cx="662.0" cy="2270.0" r="3.1"/></g>
<g fill="#619CFF"><circle cx="706.0" cy="2082.0" r="3.1"/><circle cx="715.0" cy="2082.5" r="3.1"/><circle cx="690.9" cy="2158.7" r="3.1"/><circle cx="680.8" cy="2166.1" r="3.1"/></g>
<g fill="#fff"><circle cx="631.5" cy="2165.7" r="1.3"/><circle cx="675.6" cy="2242.4" r="0.8"/><circle cx="601.0" cy="2200.6" r="1.0"/><circle cx="600.0" cy="2175.8" r="1.3"/><circle cx="609.5" cy="2292.3" r="0.8"/><circle cx="584.3" cy="2255.1" r="1.3"/><circle cx="635.4" cy="2136.7" r="1.6"/><circle cx="625.4" cy="2295.7" r="0.8"/><circle cx="601.8" cy="2221.1" r="0.8"/><circle cx="662.0" cy="2251.8" r="1.3"/><circle cx="587.5" cy="2229.3" r="1.0"/><circle cx="632.0" cy="2156.0" r="1.3"/><circle cx="600.5" cy="2230.1" r="1.6"/><circle cx="655.1" cy="2273.7" r="0.8"/><circle cx="641.5" cy="2140.3" r="1.3"/><circle cx="585.2" cy="2256.5" r="0.8"/><circle cx="622.5" cy="2254.0" r="1.6"/><circle cx="614.5" cy="2280.4" r="1.6"/><circle cx="630.0" cy="2287.0" r="0.8"/></g>
<g fill="#fff"><circle cx="757.4" cy="2142.9" r="1.0"/><circle cx="769.7" cy="2149.1" r="1.0"/><circle cx="756.1" cy="2169.2" r="1.6"/><circle cx="684.9" cy="2135.9" r="1.3"/><circle cx="752.1" cy="2101.9" r="1.3"/><circle cx="684.7" cy="2122.0" r="1.0"/><circle cx="687.4" cy="2151.5" r="1.0"/><circle cx="765.0" cy="2176.1" r="1.3"/><circle cx="737.8" cy="2190.9" r="0.8"/><circle cx="756.6" cy="2120.4" r="1.6"/><circle cx="723.3" cy="2095.7" r="1.3"/><circle cx="722.6" cy="2126.7" r="1.0"/><circle cx="755.1" cy="2209.7" r="1.6"/><circle cx="738.1" cy="2158.0" r="0.8"/><circle cx="727.9" cy="2141.8" r="0.8"/><circle cx="675.3" cy="2126.3" r="1.6"/><circle cx="752.8" cy="2060.8" r="0.8"/><circle cx="775.7" cy="2186.1" r="1.6"/><circle cx="669.1" cy="2159.4" r="1.6"/><circle cx="710.3" cy="2165.3" r="1.0"/><circle cx="711.7" cy="2143.7" r="1.6"/><circle cx="707.6" cy="2140.2" r="1.3"/><circle cx="714.2" cy="2106.0" r="0.8"/><circle cx="778.3" cy="2076.6" r="1.6"/><circle cx="768.8" cy="2209.4" r="1.6"/><circle cx="754.5" cy="2100.2" r="1.6"/><circle cx="746.0" cy="2142.3" r="1.3"/><circle cx="686.4" cy="2104.2" r="1.3"/><circle cx="735.4" cy="2103.3" r="1.3"/><circle cx="760.2" cy="2190.9" r="1.3"/><circle cx="771.6" cy="2148.1" r="1.6"/><circle cx="778.8" cy="2089.5" r="1.6"/><circle cx="789.4" cy="2130.7" r="1.3"/><circle cx="760.5" cy="2154.9" r="0.8"/><circle cx="746.5" cy="2106.8" r="1.6"/><circle cx="754.2" cy="2118.4" r="1.6"/><circle cx="725.8" cy="2194.5" r="1.6"/><circle cx="705.5" cy="2146.0" r="1.3"/><circle cx="750.5" cy="2102.8" r="1.0"/><circle cx="741.3" cy="2067.4" r="1.3"/><circle cx="732.0" cy="2127.4" r="1.0"/></g>
<g fill="#fff"><circle cx="842.9" cy="2176.8" r="0.8"/><circle cx="862.2" cy="2153.7" r="1.3"/><circle cx="894.5" cy="2163.6" r="1.0"/><circle cx="854.2" cy="2165.7" r="0.8"/><circle cx="863.6" cy="2187.2" r="1.3"/><circle cx="886.6" cy="2237.1" r="1.3"/><circle cx="842.3" cy="2191.9" r="1.6"/><circle cx="844.8" cy="2113.8" r="1.0"/><circle cx="839.9" cy="2198.2" r="1.3"/><circle cx="866.8" cy="2271.7" r="1.0"/><circle cx="841.3" cy="2181.1" r="1.0"/><circle cx="859.9" cy="2231.0" r="1.6"/><circle cx="834.7" cy="2175.1" r="1.0"/></g>
<g fill="#fff"><circle cx="687.6" cy="2270.4" r="1.0"/><circle cx="778.8" cy="2290.9" r="1.3"/><circle cx="671.7" cy="2198.0" r="1.0"/><circle cx="699.5" cy="2297.0" r="0.8"/><circle cx="824.8" cy="2262.9" r="0.8"/><circle cx="694.0" cy="2220.6" r="1.3"/><circle cx="759.2" cy="2262.3" r="1.3"/><circle cx="674.1" cy="2204.2" r="1.0"/><circle cx="833.9" cy="2259.7" r="0.8"/><circle cx="750.3" cy="2251.7" r="1.3"/><circle cx="808.3" cy="2281.1" r="0.8"/><circle cx="788.1" cy="2271.6" r="1.0"/><circle cx="694.0" cy="2225.9" r="1.3"/><circle cx="702.3" cy="2277.6" r="1.0"/><circle cx="672.4" cy="2223.5" r="1.6"/><circle cx="737.9" cy="2296.4" r="1.3"/><circle cx="676.6" cy="2201.3" r="1.3"/><circle cx="710.5" cy="2223.9" r="1.6"/><circle cx="696.7" cy="2272.7" r="1.6"/><circle cx="819.9" cy="2255.0" r="1.0"/><circle cx="741.8" cy="2227.8" r="1.3"/><circle cx="786.4" cy="2272.4" r="1.0"/><circle cx="740.9" cy="2247.4" r="0.8"/><circle cx="698.6" cy="2244.8" r="1.3"/><circle cx="737.9" cy="2242.6" r="1.3"/><circle cx="727.3" cy="2310.8" r="1.6"/><circle cx="727.4" cy="2281.3" r="0.8"/><circle cx="827.9" cy="2268.2" r="1.6"/><circle cx="736.4" cy="2256.6" r="1.0"/><circle cx="728.9" cy="2252.4" r="1.6"/><circle cx="691.6" cy="2220.3" r="1.3"/><circle cx="763.8" cy="2299.5" r="0.8"/><circle cx="765.6" cy="2256.6" r="1.0"/><circle cx="733.0" cy="2223.0" r="1.3"/><circle cx="739.5" cy="2278.3" r="0.8"/><circle cx="770.0" cy="2233.8" r="1.3"/><circle cx="818.4" cy="2284.5" r="1.0"/><circle cx="772.7" cy="2253.0" r="0.8"/><circle cx="841.3" cy="2265.6" r="1.6"/><circle cx="739.3" cy="2262.4" r="0.8"/><circle cx="817.2" cy="2292.6" r="1.0"/><circle cx="789.9" cy="2298.0" r="1.6"/></g>
<g fill="#fff"><circle cx="629.1" cy="2315.8" r="0.8"/><circle cx="644.6" cy="2346.6" r="1.3"/><circle cx="680.1" cy="2353.8" r="1.0"/><circle cx="636.9" cy="2327.9" r="1.0"/><circle cx="695.8" cy="2320.0" r="1.0"/><circle cx="708.4" cy="2314.3" r="1.3"/><circle cx="685.2" cy="2292.3" r="1.0"/><circle cx="635.5" cy="2298.2" r="0.8"/><circle cx="727.3" cy="2356.8" r="1.0"/><circle cx="655.9" cy="2356.6" r="1.3"/><circle cx="696.8" cy="2355.8" r="1.3"/><circle cx="715.7" cy="2345.7" r="1.6"/><circle cx="664.0" cy="2293.0" r="0.8"/><circle cx="697.7" cy="2327.3" r="1.0"/></g>
<g fill="#fff"><circle cx="826.3" cy="2330.1" r="1.0"/><circle cx="795.4" cy="2351.3" r="1.3"/><circle cx="742.2" cy="2345.0" r="1.6"/><circle cx="829.6" cy="2339.9" r="1.6"/><circle cx="758.6" cy="2343.9" r="1.3"/><circle cx="739.9" cy="2324.1" r="1.3"/><circle cx="849.6" cy="2322.3" r="1.0"/><circle cx="753.4" cy="2349.8" r="0.8"/><circle cx="723.9" cy="2330.1" r="0.8"/><circle cx="769.0" cy="2376.2" r="0.8"/></g>
<g fill="#fff"><circle cx="701.8" cy="2188.4" r="1.9"/><circle cx="704.0" cy="2186.7" r="2.1"/><circle cx="703.8" cy="2189.8" r="2.4"/><circle cx="702.0" cy="2188.1" r="1.7"/><circle cx="712.6" cy="2196.4" r="1.2"/><circle cx="711.5" cy="2195.1" r="1.6"/><circle cx="712.6" cy="2195.6" r="1.6"/><circle cx="728.4" cy="2205.2" r="1.1"/><circle cx="725.5" cy="2206.2" r="1.4"/><circle cx="728.5" cy="2204.1" r="1.1"/><circle cx="741.7" cy="2208.1" r="1.5"/><circle cx="740.4" cy="2209.9" r="1.3"/><circle cx="742.1" cy="2209.6" r="1.7"/><circle cx="742.7" cy="2208.3" r="1.1"/><circle cx="699.2" cy="2180.9" r="1.7"/><circle cx="699.1" cy="2180.0" r="1.1"/><circle cx="686.2" cy="2175.9" r="1.3"/><circle cx="687.1" cy="2175.0" r="1.3"/><circle cx="692.6" cy="2105.1" r="1.1"/><circle cx="690.0" cy="2103.7" r="1.8"/><circle cx="693.0" cy="2103.6" r="1.2"/><circle cx="691.0" cy="2104.7" r="1.5"/><circle cx="692.8" cy="2103.5" r="1.1"/><circle cx="691.5" cy="2116.2" r="1.8"/><circle cx="691.5" cy="2115.7" r="1.2"/><circle cx="692.0" cy="2115.8" r="1.8"/><circle cx="690.9" cy="2116.1" r="1.9"/><circle cx="669.6" cy="2117.9" r="1.0"/><circle cx="669.2" cy="2118.7" r="1.0"/><circle cx="674.5" cy="2157.3" r="1.0"/><circle cx="674.9" cy="2158.1" r="1.0"/><circle cx="677.3" cy="2156.4" r="1.1"/><circle cx="703.8" cy="2180.6" r="1.8"/><circle cx="703.5" cy="2183.3" r="1.5"/><circle cx="706.4" cy="2180.8" r="2.0"/><circle cx="705.8" cy="2181.1" r="2.1"/><circle cx="704.6" cy="2181.2" r="2.0"/><circle cx="709.4" cy="2192.4" r="1.5"/><circle cx="712.1" cy="2194.3" r="1.4"/><circle cx="712.4" cy="2194.9" r="1.4"/><circle cx="712.0" cy="2192.1" r="2.0"/><circle cx="699.6" cy="2197.5" r="1.3"/><circle cx="699.8" cy="2197.4" r="1.1"/><circle cx="767.6" cy="2103.7" r="1.3"/><circle cx="770.1" cy="2103.4" r="1.4"/><circle cx="779.4" cy="2103.9" r="1.0"/><circle cx="778.8" cy="2105.0" r="1.4"/><circle cx="801.9" cy="2106.3" r="2.7"/><circle cx="798.3" cy="2106.8" r="2.3"/><circle cx="797.6" cy="2106.2" r="1.7"/><circle cx="799.2" cy="2107.1" r="2.0"/><circle cx="798.8" cy="2105.8" r="1.6"/><circle cx="802.0" cy="2107.6" r="2.6"/><circle cx="811.2" cy="2120.2" r="1.5"/><circle cx="812.6" cy="2119.5" r="2.4"/><circle cx="812.2" cy="2120.9" r="2.1"/><circle cx="811.2" cy="2121.3" r="2.2"/><circle cx="812.6" cy="2117.7" r="1.4"/><circle cx="816.0" cy="2128.8" r="1.4"/><circle cx="815.0" cy="2127.8" r="1.4"/><circle cx="749.7" cy="2113.5" r="1.0"/><circle cx="749.2" cy="2114.6" r="1.0"/><circle cx="790.4" cy="2136.8" r="1.0"/><circle cx="790.0" cy="2136.9" r="1.0"/><circle cx="686.9" cy="2261.7" r="1.6"/><circle cx="689.4" cy="2261.5" r="1.3"/><circle cx="690.2" cy="2260.1" r="1.8"/><circle cx="706.9" cy="2256.5" r="1.6"/><circle cx="708.0" cy="2258.0" r="1.6"/><circle cx="705.7" cy="2258.1" r="2.4"/><circle cx="704.4" cy="2258.1" r="1.4"/><circle cx="709.2" cy="2271.3" r="1.5"/><circle cx="708.2" cy="2270.3" r="1.7"/><circle cx="710.4" cy="2271.5" r="1.4"/><circle cx="709.2" cy="2274.7" r="1.4"/><circle cx="689.6" cy="2275.1" r="1.0"/><circle cx="690.5" cy="2275.1" r="1.0"/><circle cx="706.0" cy="2283.1" r="1.0"/><circle cx="704.2" cy="2284.2" r="1.0"/><circle cx="666.4" cy="2324.8" r="1.0"/><circle cx="667.0" cy="2325.3" r="1.2"/><circle cx="702.7" cy="2352.4" r="1.1"/><circle cx="703.6" cy="2353.8" r="1.8"/><circle cx="702.9" cy="2354.5" r="1.5"/><circle cx="717.3" cy="2352.1" r="1.4"/><circle cx="716.9" cy="2350.7" r="1.0"/><circle cx="718.2" cy="2372.0" r="1.0"/><circle cx="719.3" cy="2370.3" r="1.0"/><circle cx="642.2" cy="2347.4" r="1.0"/><circle cx="642.8" cy="2347.8" r="1.1"/><circle cx="754.3" cy="2231.9" r="2.8"/><circle cx="753.2" cy="2231.3" r="2.6"/><circle cx="752.3" cy="2230.2" r="2.7"/><circle cx="750.8" cy="2233.4" r="2.7"/><circle cx="754.6" cy="2233.5" r="2.0"/><circle cx="755.3" cy="2231.4" r="2.2"/><circle cx="751.5" cy="2235.6" r="2.9"/><circle cx="752.6" cy="2232.7" r="2.6"/><circle cx="753.5" cy="2236.5" r="2.6"/><circle cx="769.4" cy="2238.3" r="1.2"/><circle cx="770.1" cy="2237.0" r="1.3"/><circle cx="768.3" cy="2240.8" r="1.8"/><circle cx="768.5" cy="2235.2" r="1.7"/><circle cx="769.5" cy="2236.5" r="1.2"/><circle cx="770.0" cy="2236.6" r="1.6"/><circle cx="783.4" cy="2237.0" r="1.0"/><circle cx="785.1" cy="2239.3" r="1.7"/><circle cx="783.8" cy="2241.4" r="1.1"/><circle cx="784.0" cy="2239.5" r="1.1"/><circle cx="784.4" cy="2238.8" r="1.7"/><circle cx="782.7" cy="2236.9" r="1.0"/><circle cx="766.1" cy="2324.9" r="1.0"/><circle cx="766.2" cy="2324.2" r="1.0"/><circle cx="766.9" cy="2323.9" r="1.0"/><circle cx="816.0" cy="2347.7" r="1.0"/><circle cx="817.8" cy="2347.5" r="1.0"/></g>
<g fill="#B79F00"><circle cx="668.5" cy="2162.1" r="3.1"/><circle cx="672.2" cy="2161.6" r="3.1"/><circle cx="671.8" cy="2160.7" r="3.1"/><circle cx="677.1" cy="2160.9" r="3.1"/><circle cx="680.6" cy="2159.6" r="3.1"/><circle cx="683.2" cy="2163.9" r="3.1"/><circle cx="685.3" cy="2164.0" r="3.1"/><circle cx="690.8" cy="2165.8" r="3.1"/><circle cx="692.9" cy="2169.2" r="3.1"/><circle cx="695.6" cy="2171.8" r="3.1"/><circle cx="695.9" cy="2173.5" r="3.1"/><circle cx="700.1" cy="2176.8" r="3.1"/><circle cx="701.5" cy="2177.5" r="3.1"/><circle cx="704.1" cy="2178.9" r="3.1"/><circle cx="711.4" cy="2183.0" r="3.1"/><circle cx="711.1" cy="2188.7" r="3.1"/><circle cx="715.4" cy="2188.2" r="3.1"/><circle cx="715.1" cy="2192.6" r="3.1"/><circle cx="718.6" cy="2194.2" r="3.1"/><circle cx="724.6" cy="2198.1" r="3.1"/><circle cx="726.1" cy="2197.3" r="3.1"/><circle cx="728.8" cy="2201.1" r="3.1"/></g>
<g fill="#B79F00"><circle cx="668.0" cy="2172.0" r="3.1"/><circle cx="662.0" cy="2178.0" r="3.1"/><circle cx="672.0" cy="2180.0" r="3.1"/><circle cx="676.0" cy="2176.0" r="3.1"/><circle cx="664.0" cy="2184.0" r="3.1"/></g>
<g stroke="#000" stroke-width="2.8" fill="none">
<line x1="563.8" y1="2043.9" x2="563.8" y2="2397.2"/>
<line x1="562.4" y1="2395.8" x2="920.8" y2="2395.8"/>
<line x1="554.2" y1="2065.9" x2="563.8" y2="2065.9"/>
<line x1="554.2" y1="2145.9" x2="563.8" y2="2145.9"/>
<line x1="554.2" y1="2225.9" x2="563.8" y2="2225.9"/>
<line x1="554.2" y1="2305.9" x2="563.8" y2="2305.9"/>
<line x1="554.2" y1="2385.9" x2="563.8" y2="2385.9"/>
<line x1="563.8" y1="2395.8" x2="563.8" y2="2404.5"/>
<line x1="649.6" y1="2395.8" x2="649.6" y2="2404.5"/>
<line x1="735.4" y1="2395.8" x2="735.4" y2="2404.5"/>
<line x1="821.2" y1="2395.8" x2="821.2" y2="2404.5"/>
<line x1="907.0" y1="2395.8" x2="907.0" y2="2404.5"/>
</g>
<text x="545.0" y="2078.6" text-anchor="end" font-size="34.5" fill="#000">5.0</text>
<text x="545.0" y="2158.6" text-anchor="end" font-size="34.5" fill="#000">2.5</text>
<text x="545.0" y="2238.6" text-anchor="end" font-size="34.5" fill="#000">0.0</text>
<text x="545.0" y="2318.6" text-anchor="end" font-size="34.5" fill="#000">-2.5</text>
<text x="545.0" y="2398.6" text-anchor="end" font-size="34.5" fill="#000">-5.0</text>
<text x="563.0" y="2439.0" text-anchor="middle" font-size="34.5" fill="#000">-6</text>
<text x="648.8" y="2439.0" text-anchor="middle" font-size="34.5" fill="#000">-3</text>
<text x="734.6" y="2439.0" text-anchor="middle" font-size="34.5" fill="#000">0</text>
<text x="820.4" y="2439.0" text-anchor="middle" font-size="34.5" fill="#000">3</text>
<text x="906.2" y="2439.0" text-anchor="middle" font-size="34.5" fill="#000">6</text>
<text x="739.7" y="2486.8" text-anchor="middle" font-size="39.4" fill="#000">UMAP_1</text>
<text transform="translate(463.4,2219.5) rotate(-90)" x="0" y="0" text-anchor="middle" font-size="40" fill="#000">UMAP_2</text>
<text x="742.4" y="2012.1" text-anchor="middle" font-size="45.4" font-weight="bold" fill="#000">celltype</text>
<text x="366.5" y="2006.5" font-size="41.5" font-weight="bold" fill="#000">(i)</text>
<circle cx="982.0" cy="2111.1" r="11.2" fill="#F8766D"/>
<text x="1022.5" y="2123.5" font-size="34.25" fill="#000">Metabolic Activity</text>
<circle cx="982.0" cy="2154.7" r="11.2" fill="#B79F00"/>
<text x="1022.5" y="2167.1" font-size="34.25" fill="#000">Muscular Development</text>
<circle cx="982.0" cy="2198.3" r="11.2" fill="#00BA38"/>
<text x="1022.5" y="2210.7" font-size="34.25" fill="#000">Neurodegenerative Disorders</text>
<circle cx="982.0" cy="2241.9" r="11.2" fill="#00BFC4"/>
<text x="1022.5" y="2254.3" font-size="34.25" fill="#000">Neuronal Health</text>
<circle cx="982.0" cy="2285.5" r="11.2" fill="#619CFF"/>
<text x="1022.5" y="2297.9" font-size="34.25" fill="#000">Stress Response</text>
<circle cx="982.0" cy="2329.1" r="11.2" fill="#F564E3"/>
<text x="1022.5" y="2341.5" font-size="34.25" fill="#000">Tissue Integrity</text>
</svg>
</body></html>
